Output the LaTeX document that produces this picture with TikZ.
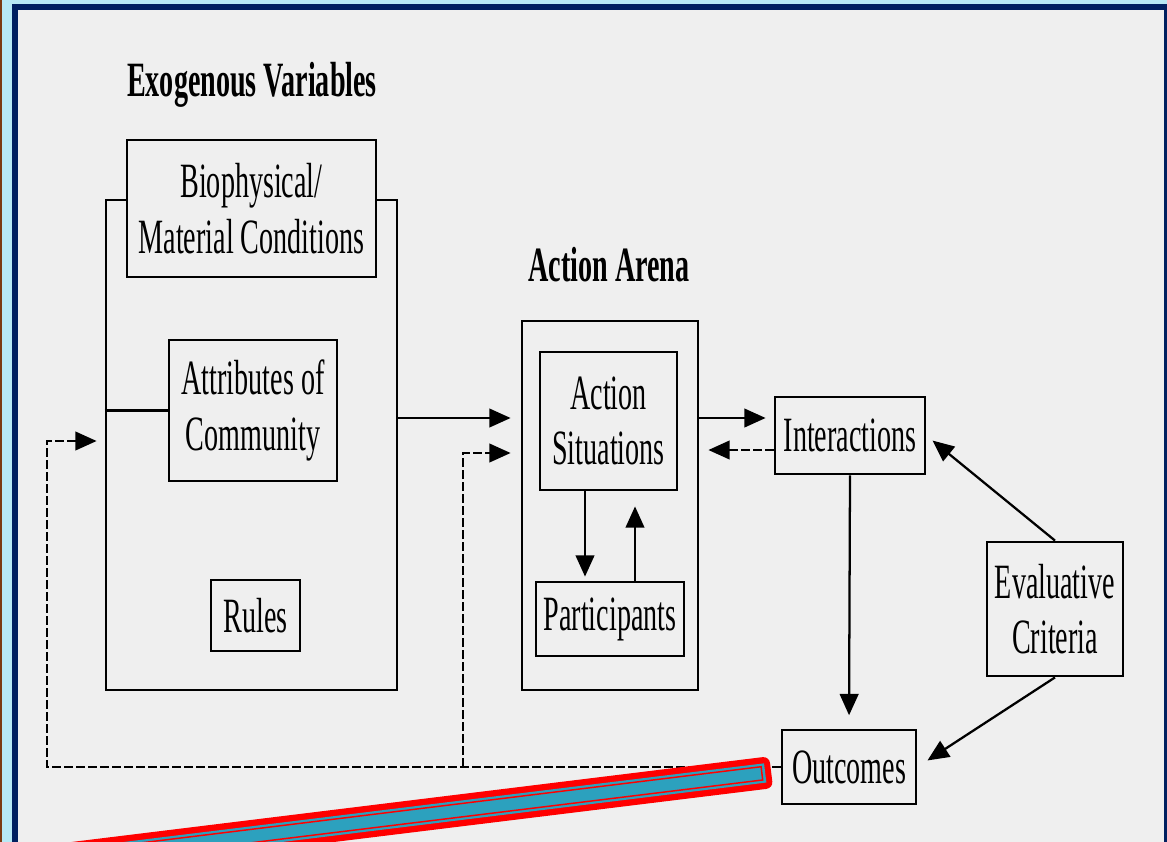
\documentclass[tikz,border=0pt]{standalone}
\usepackage{fontspec}
\setmainfont{Liberation Serif}
\usepackage{graphicx}
\usetikzlibrary{arrows.meta}
\definecolor{bggray}{HTML}{EFEFEF}
\definecolor{navy}{HTML}{002060}
\definecolor{lblue}{HTML}{B7E9F5}
\definecolor{brownedge}{HTML}{7B3B12}
\definecolor{ptred}{HTML}{FF0000}
\definecolor{ptteal}{HTML}{2CA1BE}
\newcommand\sq[1]{\scalebox{0.57}[1]{#1}}
\begin{document}
\begin{tikzpicture}[x=0.75pt,y=-0.75pt,
  box/.style={draw, line width=2.1pt, fill=bggray, inner sep=0pt,
    font=\fontsize{37}{41.5}\selectfont, align=center},
  sz/.style 2 args={minimum width=#1*0.75pt, minimum height=#2*0.75pt},
  title/.style={font=\fontsize{37}{41.5}\selectfont\bfseries, anchor=base, inner sep=0pt},
  arr/.style={line width=1.7pt, -{Triangle[length=16pt,width=14pt]}},
  darr/.style={arr, dash pattern=on 6.5pt off 2.5pt},
  plain/.style={line width=1.7pt}]
\useasboundingbox (0,0) rectangle (1167,842);
% frame
\fill[bggray] (0,0) rectangle (1167,842);
\fill[lblue] (0,0) rectangle (12,842);
\fill[lblue] (0,0) rectangle (1167,4);
\fill[brownedge] (0,0) rectangle (2,842);
\fill[navy] (12,4) rectangle (18,842);
\fill[navy] (12,4) rectangle (1167,10);
\fill[navy] (1164,4) rectangle (1167,842);
% helper coordinates
\coordinate (yA) at (0,418);
\coordinate (yB) at (0,441);
\coordinate (yC) at (0,453);
\coordinate (yD) at (0,450);
\coordinate (xL) at (47,0);
\coordinate (xM) at (463,0);
\coordinate (xa) at (585,0);
\coordinate (xb) at (635,0);
% titles
\node[title] (exoT) at (252,97) {\sq{Exogenous Variables}};
\node[title] (arenaT) at (609,281) {\sq{Action Arena}};
% exogenous block
\node[box, sz={291}{490}, fill=none] (exo) at (251.5,445) {};
\node[box, sz={249}{137}] (bio) at (251.5,208.5) {\sq{Biophysical/}\\\sq{Material Conditions}};
\node[box, sz={168}{141}] (attr) at (253,410.5) {\sq{Attributes of}\\\sq{Community}};
\node[box, sz={89}{71}] (rules) at (255.5,615.5) {\sq{Rules}};
\draw[plain] (exo.west |- attr.west) -- (attr.west);
% action arena
\node[box, sz={176}{369}, fill=none] (arena) at (610,505.5) {};
\node[box, sz={137}{138}] (sit) at (608.5,421) {\sq{Action}\\\sq{Situations}};
\node[box, sz={148}{74}] (part) at (610,619) {\sq{Participants}};
% right side
\node[box, sz={150}{77}] (inter) at (850,435.5) {\sq{Interactions}};
\node[box, sz={134}{74}] (out) at (849,767) {\sq{Outcomes}};
\node[box, sz={136}{134}] (eval) at (1055,609) {\sq{Evaluative}\\\sq{Criteria}};
% connectors
\draw[arr, shorten >=7.5pt] (exo.east |- yA) -- (arena.west |- yA);
\draw[arr, shorten >=6pt] (arena.east |- yA) -- (inter.west |- yA);
\draw[darr, shorten >=6.75pt] (inter.west |- yD) -- (arena.east |- yD);
\draw[arr, shorten >=3pt] (sit.south -| xa) -- (part.north -| xa);
\draw[arr, shorten >=11.25pt] (part.north -| xb) -- (sit.south -| xb);
\draw[arr, shorten >=10pt] (inter.south) -- (out.north);
\draw[arr, shorten >=6pt] (eval.north) -- (inter.east);
\draw[arr, shorten >=9pt] (eval.south) -- (out.east);
\draw[darr, shorten >=6pt] (out.west) -- (out.west -| xL) |- (exo.west |- yB);
\draw[darr, shorten >=7.5pt] (out.west -| xM) |- (arena.west |- yC);
% pointer
\node[fill=ptred, rotate=7, inner sep=0pt, rounded corners=5pt,
  minimum width=539pt, minimum height=24pt] (ptr) at (414.5,816) {};
\node[fill=ptteal, rotate=7, inner sep=0pt,
  minimum width=530pt, minimum height=14.5pt] (ptrin) at (ptr.center) {};
\node[draw=ptred, line width=1.1pt, rotate=7, inner sep=0pt,
  minimum width=525pt, minimum height=10pt] (ptrline) at (ptr.center) {};
\end{tikzpicture}
\end{document}
